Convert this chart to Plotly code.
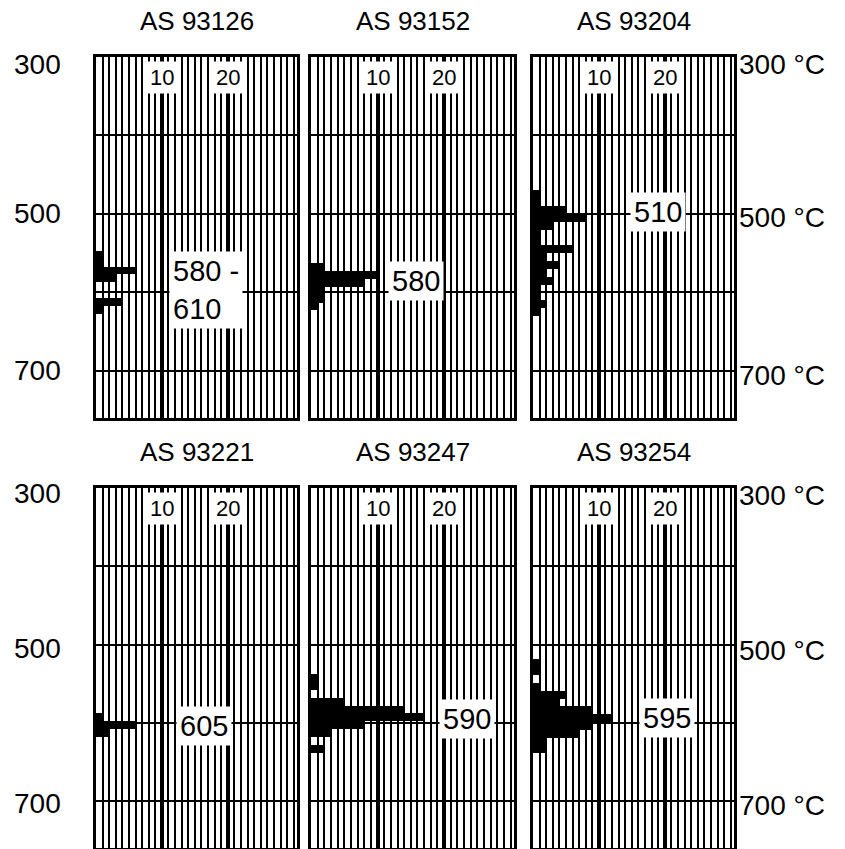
import plotly.graph_objects as go

W, H = 845, 849

titles = ["AS 93126", "AS 93152", "AS 93204", "AS 93221", "AS 93247", "AS 93254"]

temps_93126 = [552, 562, 572, 582, 612, 622]
counts_93126 = [1, 1, 6, 3, 4, 1]

temps_93152 = [568, 578, 588, 598, 608, 618]
counts_93152 = [2, 10, 8, 2, 2, 1]

temps_93204 = [475, 485, 495, 505, 515, 525, 535, 545, 555, 565, 575, 585, 595, 605, 615, 625]
counts_93204 = [1, 1, 5, 8, 3, 1, 1, 6, 2, 4, 2, 3, 1, 1, 2, 1]

temps_93221 = [593, 603, 613]
counts_93221 = [1, 6, 2]

temps_93247 = [543, 553, 573, 583, 593, 603, 613, 633]
counts_93247 = [1, 1, 5, 14, 17, 8, 3, 2]

temps_93254 = [524, 534, 554, 564, 574, 584, 594, 604, 614, 624, 634]
counts_93254 = [1, 1, 1, 5, 4, 9, 12, 9, 7, 2, 2]

mode_labels = ["580 -<br>610", "580", "510", "605", "590", "595"]
mode_label_x = [16.7, 15.8, 19.0, 16.4, 23.4, 20.3]
mode_label_t = [597, 585, 497, 604, 595, 594]

count_ticks = [10, 20]
temp_ticks = ["300", "500", "700"]

series = [
    (temps_93126, counts_93126),
    (temps_93152, counts_93152),
    (temps_93204, counts_93204),
    (temps_93221, counts_93221),
    (temps_93247, counts_93247),
    (temps_93254, counts_93254),
]

FONT = "Liberation Sans, Arial, sans-serif"


def px_x(p):
    return p / W


def px_y(p):
    return 1 - p / H


col_px = [(96, 297), (311, 514), (533, 734)]
row_px = [(57, 418), (488, 848)]

fig = go.Figure()
ann = []
for i, (t, c) in enumerate(series):
    r, col = divmod(i, 3)
    n = "" if i == 0 else str(i + 1)
    xa, ya = "x" + n, "y" + n
    fig.add_trace(go.Bar(
        x=c, y=t, orientation="h", width=10,
        marker=dict(color="black", line=dict(width=0)),
        xaxis=xa, yaxis=ya, showlegend=False, hoverinfo="x+y",
    ))
    x0, x1 = col_px[col]
    y0, y1 = row_px[r]
    fig.layout["xaxis" + n] = dict(
        domain=[px_x(x0), px_x(x1)], range=[0, 30.5], anchor=ya,
        tickmode="array", tickvals=count_ticks, showticklabels=False,
        showgrid=True, gridcolor="black", gridwidth=3.6,
        minor=dict(dtick=1, tick0=0, showgrid=True, gridcolor="black", gridwidth=1.9),
        showline=True, linecolor="black", linewidth=2.5, mirror=True,
        zeroline=False, ticks="", fixedrange=True,
    )
    fig.layout["yaxis" + n] = dict(
        domain=[px_y(y1), px_y(y0)], range=[760, 300], anchor=xa,
        tickmode="linear", tick0=300, dtick=100, showticklabels=False,
        showgrid=True, gridcolor="black", gridwidth=1.8,
        showline=True, linecolor="black", linewidth=2.5, mirror=True,
        zeroline=False, ticks="", fixedrange=True,
    )
    # panel title
    ann.append(dict(text=titles[i], xref="paper", yref="paper",
                    x=px_x((x0 + x1) / 2), y=px_y(y0 - 36),
                    xanchor="center", yanchor="middle", showarrow=False,
                    font=dict(family=FONT, size=26, color="black")))
    # count tick labels inside top
    for v in count_ticks:
        ann.append(dict(text=str(v), xref=xa, yref=ya, x=v, y=326,
                        xanchor="center", yanchor="middle", showarrow=False,
                        bgcolor="white", borderpad=3,
                        font=dict(family=FONT, size=22, color="black")))
    # mode label
    ann.append(dict(text=mode_labels[i], xref=xa, yref=ya,
                    x=mode_label_x[i], y=mode_label_t[i],
                    xanchor="center", yanchor="middle", showarrow=False,
                    align="left", bgcolor="white", borderpad=3,
                    font=dict(family=FONT, size=29, color="black")))

# left and right temperature labels
left_y = [[65, 213, 370], [493, 648, 803]]
right_y = [[65, 217, 375], [495, 650, 805]]
for r in range(2):
    for k, lab in enumerate(temp_ticks):
        ann.append(dict(text=lab, xref="paper", yref="paper",
                        x=px_x(63), y=px_y(left_y[r][k]),
                        xanchor="right", yanchor="middle", showarrow=False,
                        font=dict(family=FONT, size=28, color="black")))
        ann.append(dict(text=lab + " °C", xref="paper", yref="paper",
                        x=px_x(737), y=px_y(right_y[r][k]),
                        xanchor="left", yanchor="middle", showarrow=False,
                        font=dict(family=FONT, size=28, color="black")))

fig.update_layout(
    width=W, height=H, margin=dict(l=0, r=0, t=0, b=0),
    paper_bgcolor="white", plot_bgcolor="white",
    bargap=0, annotations=ann, showlegend=False,
    font=dict(family=FONT, color="black"),
)

fig.write_html("out.html", config={"displayModeBar": False},
               post_script="document.body.style.margin='0px';")
